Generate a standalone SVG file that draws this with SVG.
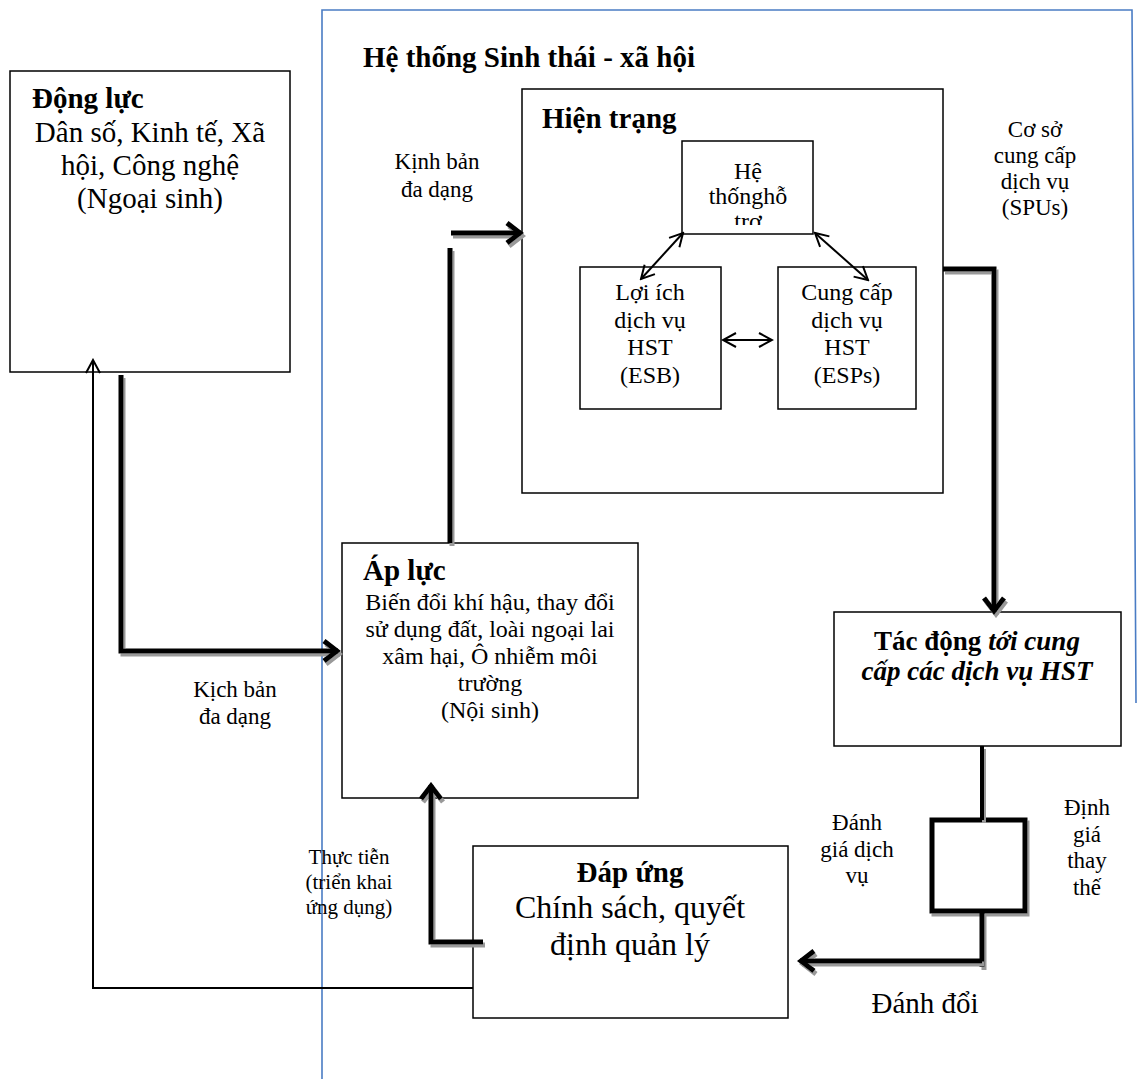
<svg xmlns="http://www.w3.org/2000/svg" width="1139" height="1079" viewBox="0 0 1139 1079">
<style>
  text { font-family: "Liberation Serif", "Times New Roman", serif; fill: #000; }
  .box { fill: #fff; stroke: #000; stroke-width: 1.5; }
  .b { font-weight: bold; }
  .bi { font-weight: bold; font-style: italic; }
  .thick { fill: none; stroke: #000; stroke-width: 5; filter: url(#sh); }
  .thin { fill: none; stroke: #000; stroke-width: 2; }
  .frame { fill: none; stroke: #4a7cc4; stroke-width: 1.6; }
  .c { text-anchor: middle; }
</style>
<defs>
  <filter id="sh" filterUnits="userSpaceOnUse" x="0" y="0" width="1139" height="1079">
    <feDropShadow dx="2" dy="3" stdDeviation="0.6" flood-color="#999" flood-opacity="1"/>
  </filter>
  <marker id="ah" markerUnits="userSpaceOnUse" markerWidth="26" markerHeight="26" viewBox="0 0 26 26" refX="23" refY="13" orient="auto">
    <path d="M9,3 L22,13 L9,23" fill="none" stroke="#000" stroke-width="5"/>
  </marker>
  <marker id="at" markerUnits="userSpaceOnUse" markerWidth="18" markerHeight="18" viewBox="0 0 18 18" refX="16" refY="9" orient="auto-start-reverse">
    <path d="M3,2 L16,9 L3,16" fill="none" stroke="#000" stroke-width="2"/>
  </marker>
  <clipPath id="clipHT"><rect x="682" y="141" width="131" height="84"/></clipPath>
</defs>

<rect width="1139" height="1079" fill="#fff"/>

<g id="frame">
  <path class="frame" d="M322,1079 V10 H1132 L1136,703"/>
  <text class="b" x="363" y="67" font-size="29">Hệ thống Sinh thái - xã hội</text>
</g>

<g id="dong-luc">
  <rect class="box" x="10" y="71" width="280" height="301"/>
  <text class="b" x="32" y="108" font-size="29">Động lực</text>
  <text class="c" x="150" y="142" font-size="29">Dân số, Kinh tế, Xã</text>
  <text class="c" x="150" y="175" font-size="29">hội, Công nghệ</text>
  <text class="c" x="150" y="208" font-size="29">(Ngoại sinh)</text>
</g>

<g id="hien-trang">
  <rect class="box" x="522" y="89" width="421" height="404"/>
  <text class="b" x="542" y="128" font-size="29">Hiện trạng</text>
</g>

<g id="he-thong-ho-tro">
  <rect class="box" x="682" y="141" width="131" height="93"/>
  <g clip-path="url(#clipHT)">
    <text class="c" x="748" y="179" font-size="24">Hệ</text>
    <text class="c" x="748" y="204" font-size="24">thốnghỗ</text>
    <text class="c" x="748" y="229" font-size="24">trợ</text>
  </g>
</g>

<g id="loi-ich">
  <rect class="box" x="580" y="267" width="141" height="142"/>
  <text class="c" x="650" y="300" font-size="24">Lợi ích</text>
  <text class="c" x="650" y="328" font-size="24">dịch vụ</text>
  <text class="c" x="650" y="355" font-size="24">HST</text>
  <text class="c" x="650" y="383" font-size="24">(ESB)</text>
</g>

<g id="cung-cap">
  <rect class="box" x="778" y="267" width="138" height="142"/>
  <text class="c" x="847" y="300" font-size="24">Cung cấp</text>
  <text class="c" x="847" y="328" font-size="24">dịch vụ</text>
  <text class="c" x="847" y="355" font-size="24">HST</text>
  <text class="c" x="847" y="383" font-size="24">(ESPs)</text>
</g>

<g id="ap-luc">
  <rect class="box" x="342" y="543" width="296" height="255"/>
  <text class="b" x="363" y="580" font-size="29">Áp lực</text>
  <text class="c" x="490" y="610" font-size="24">Biến đổi khí hậu, thay đổi</text>
  <text class="c" x="490" y="637" font-size="24">sử dụng đất, loài ngoại lai</text>
  <text class="c" x="490" y="664" font-size="24">xâm hại, Ô nhiễm môi</text>
  <text class="c" x="490" y="691" font-size="24">trường</text>
  <text class="c" x="490" y="718" font-size="24">(Nội sinh)</text>
</g>

<g id="tac-dong">
  <rect class="box" x="834" y="612" width="287" height="134"/>
  <text class="c" x="977" y="650" font-size="27"><tspan class="b">Tác động </tspan><tspan class="bi">tới cung</tspan></text>
  <text class="c bi" x="977" y="680" font-size="27">cấp các dịch vụ HST</text>
</g>

<g id="dinh-gia-box">
  <rect x="932" y="820" width="93" height="91" fill="#fff" stroke="#000" stroke-width="5" filter="url(#sh)"/>
</g>

<g id="dap-ung">
  <rect class="box" x="473" y="846" width="315" height="172"/>
  <text class="c b" x="630" y="882" font-size="29">Đáp ứng</text>
  <text class="c" x="630" y="918" font-size="32">Chính sách, quyết</text>
  <text class="c" x="630" y="955" font-size="32">định quản lý</text>
</g>

<g id="connectors">
  <path class="thick" d="M121,375 V651 H338" marker-end="url(#ah)"/>
  <path class="thick" d="M450,543 V248"/>
  <path class="thick" d="M451,233 H521" marker-end="url(#ah)"/>
  <path class="thick" d="M943,269 H994 V612" marker-end="url(#ah)"/>
  <path class="thick" d="M982,746 V820" style="stroke-width:4"/>
  <path class="thick" d="M982,911 V967"/>
  <path class="thick" d="M982,961 H800" marker-end="url(#ah)"/>
  <path class="thick" d="M483,942 H431 V785" marker-end="url(#ah)"/>
  <path class="thin" d="M473,988 H93 V360" marker-end="url(#at)"/>
  <path class="thin" d="M641,279 L683,233" marker-start="url(#at)" marker-end="url(#at)"/>
  <path class="thin" d="M815,233 L868,280" marker-start="url(#at)" marker-end="url(#at)"/>
  <path class="thin" d="M723,340 L772,340" marker-start="url(#at)" marker-end="url(#at)"/>
</g>

<g id="labels">
  <text class="c" x="437" y="169" font-size="23">Kịnh bản</text>
  <text class="c" x="437" y="197" font-size="23">đa dạng</text>
  <text class="c" x="235" y="697" font-size="23">Kịch bản</text>
  <text class="c" x="235" y="724" font-size="23">đa dạng</text>
  <text class="c" x="1035" y="137" font-size="23">Cơ sở</text>
  <text class="c" x="1035" y="163" font-size="23">cung cấp</text>
  <text class="c" x="1035" y="189" font-size="23">dịch vụ</text>
  <text class="c" x="1035" y="215" font-size="23">(SPUs)</text>
  <text class="c" x="857" y="830" font-size="23">Đánh</text>
  <text class="c" x="857" y="857" font-size="23">giá dịch</text>
  <text class="c" x="857" y="883" font-size="23">vụ</text>
  <text class="c" x="1087" y="815" font-size="23">Định</text>
  <text class="c" x="1087" y="842" font-size="23">giá</text>
  <text class="c" x="1087" y="868" font-size="23">thay</text>
  <text class="c" x="1087" y="895" font-size="23">thế</text>
  <text class="c" x="925" y="1013" font-size="29">Đánh đổi</text>
  <text class="c" x="349" y="864" font-size="21">Thực tiễn</text>
  <text class="c" x="349" y="889" font-size="21">(triển khai</text>
  <text class="c" x="349" y="914" font-size="21">ứng dụng)</text>
</g>
</svg>
